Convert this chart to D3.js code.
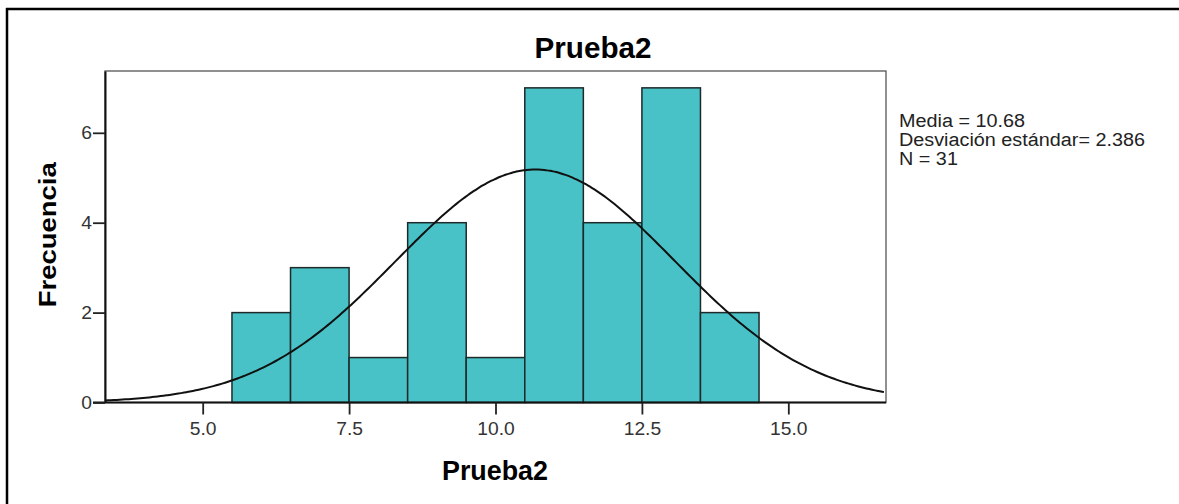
<!DOCTYPE html>
<html>
<head>
<meta charset="utf-8">
<script src="https://cdn.jsdelivr.net/npm/d3@7/dist/d3.min.js"></script>
<style>
  html, body { margin: 0; padding: 0; background: #fff; }
  svg { display: block; font-family: "Liberation Sans", Arial, sans-serif; }
</style>
</head>
<body>
<svg id="chart" width="1179" height="504"></svg>
<script>
// datos del histograma
const binStarts = [5.5, 6.5, 7.5, 8.5, 9.5, 10.5, 11.5, 12.5, 13.5];
const binWidth = 1;
const counts = [2, 3, 1, 4, 1, 7, 4, 7, 2];
const xTicks = [5.0, 7.5, 10.0, 12.5, 15.0];
const yTicks = [0, 2, 4, 6];
const statsLines = ["Media = 10.68", "Desviación estándar= 2.386", "N = 31"];
const media = 10.68, desv = 2.386, nTotal = 31;

const svg = d3.select("#chart");
const W = 1179, H = 504;
const plot = { left: 105, top: 71, right: 886, bottom: 402.5 };

// estira el texto en horizontal como en la imagen original
function stretch(sel, k) {
  sel.each(function() {
    const len = this.getComputedTextLength();
    d3.select(this).attr("textLength", len * k).attr("lengthAdjust", "spacingAndGlyphs");
  });
}

// marco exterior (solo arriba e izquierda visibles)
svg.append("line").attr("x1", 6).attr("x2", W).attr("y1", 9).attr("y2", 9)
  .attr("stroke", "#000").attr("stroke-width", 2.5);
svg.append("line").attr("x1", 7).attr("x2", 7).attr("y1", 8).attr("y2", H)
  .attr("stroke", "#000").attr("stroke-width", 2.5);

const x = d3.scaleLinear().domain([3.332, 16.668]).range([plot.left, plot.right]);
const y = d3.scaleLinear().domain([0, 7.375]).range([plot.bottom, plot.top]);

// caja del área de trazado
svg.append("rect")
  .attr("x", plot.left).attr("y", plot.top)
  .attr("width", plot.right - plot.left).attr("height", plot.bottom - plot.top)
  .attr("fill", "none").attr("stroke", "#555").attr("stroke-width", 1.3);

// barras
svg.append("g").selectAll("rect")
  .data(counts.map((c, i) => ({ x0: binStarts[i], c: c })))
  .enter().append("rect")
  .attr("x", d => x(d.x0))
  .attr("y", d => y(d.c))
  .attr("width", d => x(d.x0 + binWidth) - x(d.x0))
  .attr("height", d => y(0) - y(d.c))
  .attr("fill", "#48c2c6")
  .attr("stroke", "#1e2a2a")
  .attr("stroke-width", 1.5);

// curva normal ajustada
svg.append("clipPath").attr("id", "clipPlot").append("rect")
  .attr("x", plot.left).attr("y", plot.top)
  .attr("width", plot.right - plot.left).attr("height", plot.bottom - plot.top);
const dens = v => nTotal * binWidth / (desv * Math.sqrt(2 * Math.PI)) *
  Math.exp(-0.5 * Math.pow((v - media) / desv, 2));
const xs = d3.range(x.domain()[0], x.domain()[1] + 0.01, 0.05);
svg.append("path")
  .datum(xs)
  .attr("clip-path", "url(#clipPlot)")
  .attr("d", d3.line().x(v => x(v)).y(v => y(dens(v))).curve(d3.curveBasis))
  .attr("fill", "none").attr("stroke", "#111").attr("stroke-width", 2);

// ejes
const xAxis = svg.append("g")
  .attr("transform", `translate(0,${plot.bottom})`)
  .call(d3.axisBottom(x).tickValues(xTicks).tickFormat(d3.format(".1f")).tickSize(12).tickSizeOuter(0));
const yAxis = svg.append("g")
  .attr("transform", `translate(${plot.left},0)`)
  .call(d3.axisLeft(y).tickValues(yTicks).tickSize(12).tickSizeOuter(0));

[xAxis, yAxis].forEach(a => {
  a.select(".domain").attr("stroke", "#111").attr("stroke-width", 2);
  a.selectAll(".tick line").attr("stroke", "#222").attr("stroke-width", 1.8);
  a.selectAll(".tick text").attr("fill", "#333")
    .style("font-size", "17.5px").style("font-family", "Liberation Sans, Arial, sans-serif");
});
xAxis.select(".domain").attr("d", `M${plot.left - 12},0H${plot.right}`);
xAxis.selectAll(".tick text").attr("y", 20);
yAxis.selectAll(".tick text").attr("x", -13).attr("dy", "0.35em");
stretch(xAxis.selectAll(".tick text"), 1.1);
stretch(yAxis.selectAll(".tick text"), 1.1);

// títulos
svg.append("text")
  .attr("x", 593).attr("y", 58)
  .attr("text-anchor", "middle")
  .style("font-size", "29px").style("font-weight", "bold")
  .attr("textLength", 117).attr("lengthAdjust", "spacingAndGlyphs")
  .text("Prueba2");
svg.append("text")
  .attr("x", 495).attr("y", 480)
  .attr("text-anchor", "middle")
  .style("font-size", "27px").style("font-weight", "bold")
  .attr("textLength", 106).attr("lengthAdjust", "spacingAndGlyphs")
  .text("Prueba2");
svg.append("text")
  .attr("transform", `translate(56,${(plot.top + plot.bottom) / 2 - 2}) rotate(-90)`)
  .attr("text-anchor", "middle")
  .style("font-size", "24px").style("font-weight", "bold")
  .attr("textLength", 145).attr("lengthAdjust", "spacingAndGlyphs")
  .text("Frecuencia");

// estadísticos
const stats = svg.append("g").selectAll("text")
  .data(statsLines).enter().append("text")
  .attr("x", 899)
  .attr("y", (d, i) => 127 + i * 19)
  .style("font-size", "18px").attr("fill", "#222")
  .text(d => d);
stretch(stats, 1.1);
</script>
</body>
</html>
